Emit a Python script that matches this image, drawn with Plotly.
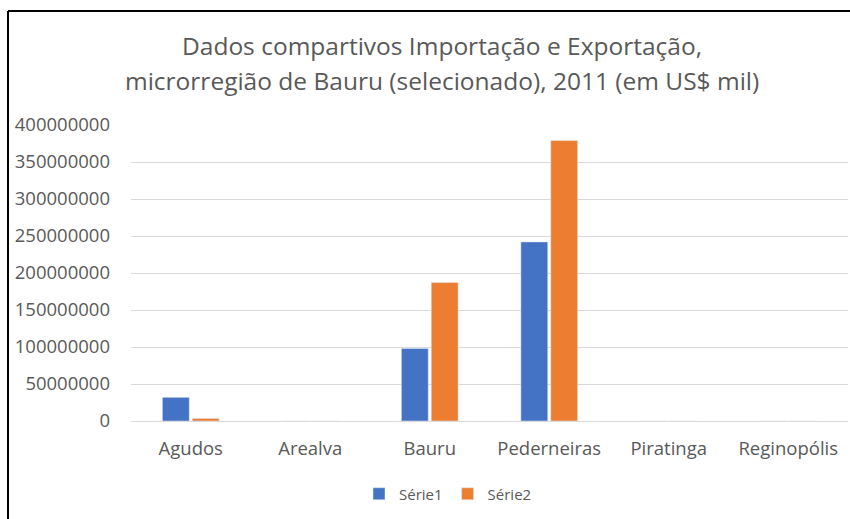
import plotly.graph_objects as go

categories = ["Agudos", "Arealva", "Bauru", "Pederneiras", "Piratinga", "Reginopólis"]
serie1 = [32000000, 0, 98000000, 242000000, 0, 0]
serie2 = [3500000, 0, 187000000, 379000000, 0, 0]
y_ticks = [0, 50000000, 100000000, 150000000, 200000000, 250000000, 300000000, 350000000, 400000000]
title_lines = ["Dados compartivos Importação e Exportação,",
               "microrregião de Bauru (selecionado), 2011 (em US$ mil)"]

W, H = 850, 519
L, R, T, B = 131, 2, 125, 98
pw = W - L - R
ph = H - T - B

font_family = "Open Sans, sans-serif"
gray = "#595959"

fig = go.Figure()
fig.add_trace(go.Bar(name="Série1", x=categories, y=serie1, marker_color="#4472C4"))
fig.add_trace(go.Bar(name="Série2", x=categories, y=serie2, marker_color="#ED7D31"))

annotations = []
for line, ypix in zip(title_lines, [45, 81]):
    annotations.append(dict(
        text=line, xref="paper", yref="paper", showarrow=False,
        x=(442 - L) / pw, xanchor="center",
        y=(H - B - ypix) / ph, yanchor="middle",
        font=dict(size=24.5, color=gray, family=font_family),
    ))

fig.update_layout(
    width=W, height=H,
    margin=dict(l=L, r=R, t=T, b=B),
    paper_bgcolor="white", plot_bgcolor="white",
    barmode="group", bargap=0.5, bargroupgap=0.1,
    font=dict(family=font_family, color=gray),
    annotations=annotations,
    legend=dict(
        orientation="h", x=448 / W, xref="container", xanchor="center",
        y=1 - 494 / H, yref="container", yanchor="middle",
        font=dict(size=15, color=gray), itemwidth=30,
    ),
    yaxis=dict(
        range=[0, 400000000], tickvals=y_ticks, ticktext=[str(v) for v in y_ticks],
        showgrid=True, gridcolor="#D9D9D9", gridwidth=1,
        zeroline=True, zerolinecolor="#D9D9D9", zerolinewidth=1,
        showline=False, ticks="", ticklabelstandoff=20,
        tickfont=dict(size=18.5, color=gray),
    ),
    xaxis=dict(
        showgrid=False, showline=True, linecolor="#D9D9D9", ticks="",
        ticklabelstandoff=11, tickfont=dict(size=18.5, color=gray),
    ),
    shapes=[
        dict(type="line", xref="paper", yref="paper",
             x0=(8 - L) / pw, x1=(W - L) / pw, y0=(H - B - 11) / ph, y1=(H - B - 11) / ph,
             line=dict(color="black", width=2)),
        dict(type="line", xref="paper", yref="paper",
             x0=(8 - L) / pw, x1=(8 - L) / pw, y0=(H - B - 11) / ph, y1=(H - B - H) / ph,
             line=dict(color="black", width=2)),
    ],
)

fig.write_html("out.html", config={"displayModeBar": False},
               post_script="document.body.style.margin='0';document.body.style.overflow='hidden';")
